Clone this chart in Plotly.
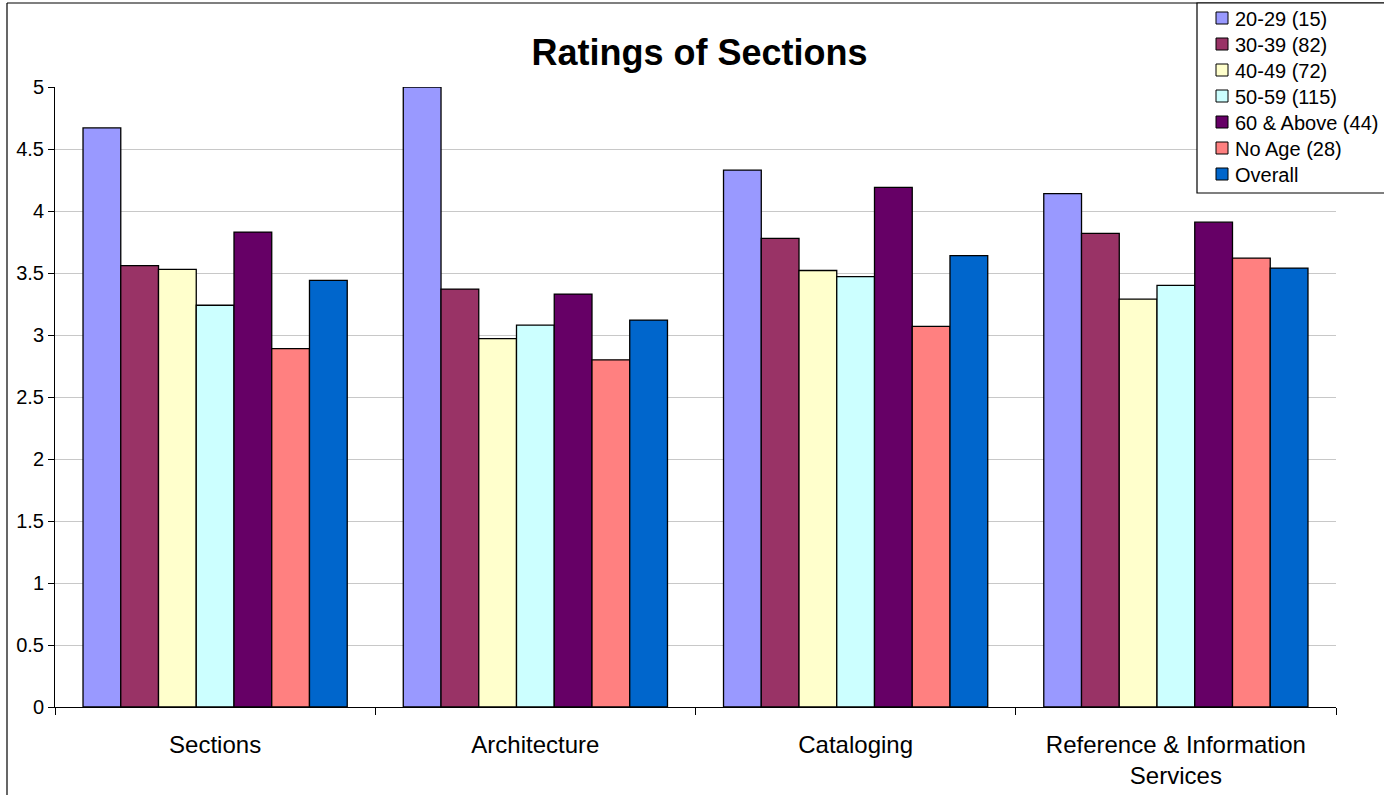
import plotly.graph_objects as go

# Survey ratings by section, split by respondent age group
categories = ["Sections", "Architecture", "Cataloging",
              "Reference & Information<br>Services"]

series_names = ["20-29 (15)", "30-39 (82)", "40-49 (72)", "50-59 (115)",
                "60 & Above (44)", "No Age (28)", "Overall"]

age_20_29 = [4.67, 5.00, 4.33, 4.14]
age_30_39 = [3.56, 3.37, 3.78, 3.82]
age_40_49 = [3.53, 2.97, 3.52, 3.29]
age_50_59 = [3.24, 3.08, 3.47, 3.40]
age_60_up = [3.83, 3.33, 4.19, 3.91]
no_age = [2.89, 2.80, 3.07, 3.62]
overall = [3.44, 3.12, 3.64, 3.54]

series_values = [age_20_29, age_30_39, age_40_49, age_50_59,
                 age_60_up, no_age, overall]

colors = ["#9999FF", "#993366", "#FFFFCC", "#CCFFFF",
          "#660066", "#FF8080", "#0066CC"]

y_ticks = [0, 0.5, 1, 1.5, 2, 2.5, 3, 3.5, 4, 4.5, 5]
y_tick_text = ["0", "0.5", "1", "1.5", "2", "2.5", "3", "3.5", "4", "4.5", "5"]

FONT = "Liberation Sans, Arial, sans-serif"
W, H = 1384, 795
ML, MR, MT, MB = 55, 48, 87, 88
PW, PH = W - ML - MR, H - MT - MB


def px_x(px):
    return (px - ML) / PW


def px_y(py):
    return (H - MB - py) / PH


fig = go.Figure()
for name, vals, col in zip(series_names, series_values, colors):
    fig.add_trace(go.Bar(
        x=categories, y=vals, name=name,
        marker=dict(color=col, line=dict(color="#000000", width=1.3)),
        showlegend=False,
    ))

shapes = [
    # chart frame (left and top edges)
    dict(type="line", xref="paper", yref="paper",
         x0=px_x(7), x1=px_x(1400), y0=px_y(3), y1=px_y(3),
         line=dict(color="#000000", width=1.2)),
    dict(type="line", xref="paper", yref="paper",
         x0=px_x(7), x1=px_x(7), y0=px_y(3), y1=px_y(810),
         line=dict(color="#000000", width=1.2)),
    # legend box
    dict(type="rect", xref="paper", yref="paper",
         x0=px_x(1197), x1=px_x(1400), y0=px_y(3), y1=px_y(193),
         line=dict(color="#000000", width=1.2), fillcolor="#FFFFFF"),
]
annotations = []
for i, (name, col) in enumerate(zip(series_names, colors)):
    cy = 18 + 26 * i
    shapes.append(dict(type="rect", xref="paper", yref="paper",
                       x0=px_x(1216), x1=px_x(1228),
                       y0=px_y(cy - 6), y1=px_y(cy + 6),
                       line=dict(color="#000000", width=1), fillcolor=col))
    annotations.append(dict(xref="paper", yref="paper",
                            x=px_x(1233), y=px_y(cy + 1),
                            xanchor="left", yanchor="middle",
                            text=name, showarrow=False,
                            font=dict(family=FONT, size=20, color="#000000")))

fig.update_layout(
    width=W, height=H,
    margin=dict(l=ML, r=MR, t=MT, b=MB, autoexpand=False),
    paper_bgcolor="#FFFFFF", plot_bgcolor="#FFFFFF",
    barmode="group", bargap=0.175, bargroupgap=0,
    font=dict(family=FONT, color="#000000"),
    title=dict(text="<b>Ratings of Sections</b>", x=699.5 / W, xanchor="center",
               xref="container", yref="container", y=1 - 52 / H,
               yanchor="middle",
               font=dict(family=FONT, size=36, color="#000000")),
    shapes=shapes,
    annotations=annotations,
    xaxis=dict(
        type="category", tickson="boundaries", ticks="outside", ticklen=7,
        tickcolor="#000000", showline=True, linecolor="#000000", linewidth=1,
        showgrid=False, tickfont=dict(family=FONT, size=24, color="#000000"),
        ticklabelstandoff=16, automargin=False,
    ),
    yaxis=dict(
        range=[0, 5], tickvals=y_ticks, ticktext=y_tick_text,
        ticks="outside", ticklen=6, tickcolor="#000000",
        showline=True, linecolor="#000000", linewidth=1,
        showgrid=True, gridcolor="#C8C8C8", gridwidth=1,
        zeroline=False, automargin=False,
        tickfont=dict(family=FONT, size=20, color="#000000"),
    ),
)

fig.write_html("out.html")
